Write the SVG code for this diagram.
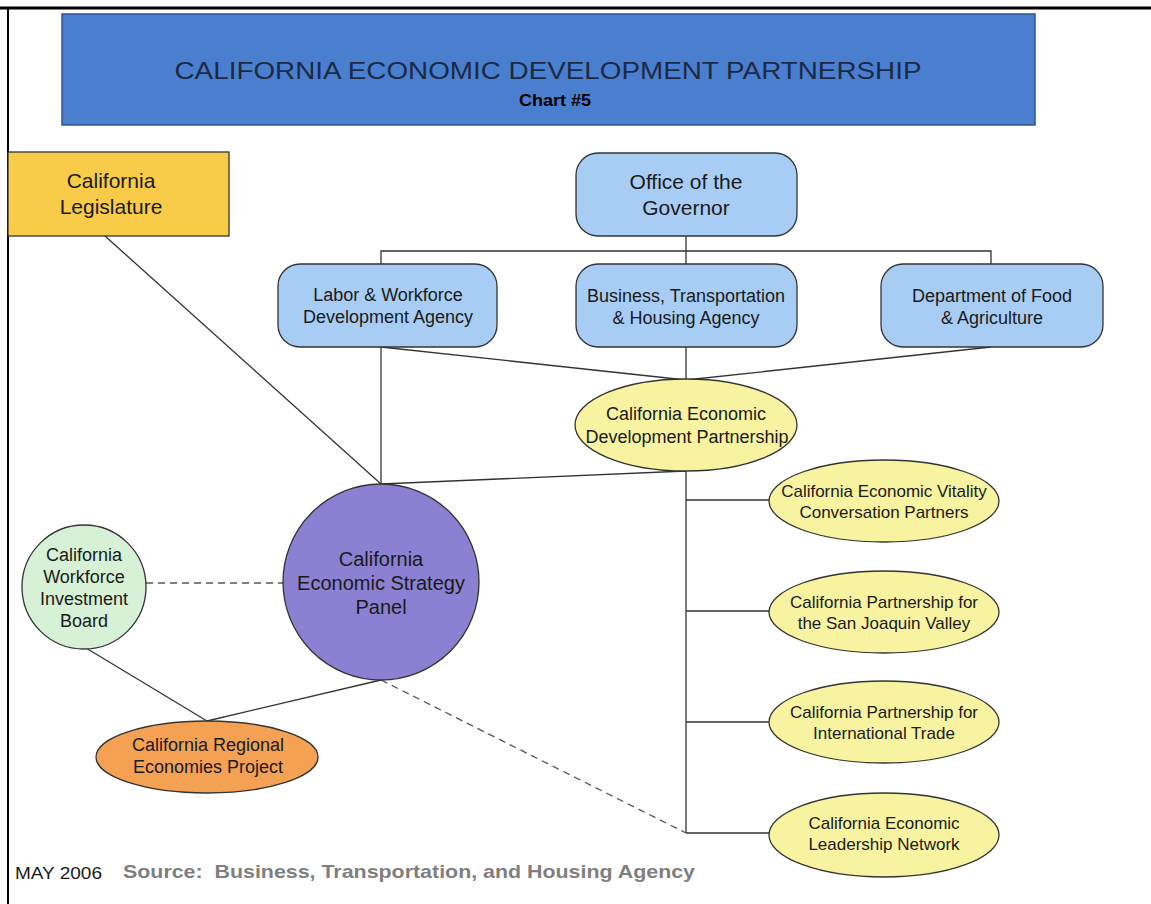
<svg xmlns="http://www.w3.org/2000/svg" width="1151" height="904" viewBox="0 0 1151 904">
<style>
text{font-family:"Liberation Sans",Arial,sans-serif;fill:#1a1a1a;text-anchor:middle}
text.l{text-anchor:start}
text.grey{fill:#7f7f7f;font-weight:bold}
text.tt{fill:#1c2a44}
text.b{font-weight:bold;fill:#000}
.n{stroke:#333;stroke-width:1.3}
.blue{fill:#a8cdf4}
.yel{fill:#f8f3a0}
.c{stroke:#333;stroke-width:1.3;fill:none}
.d{stroke:#555;stroke-width:1.3;fill:none;stroke-dasharray:7 5}
.t18{font-size:18px}
.t17{font-size:17px}
.t21{font-size:21px}
.t20{font-size:20px}
</style>
<rect x="0" y="0" width="1151" height="904" fill="#fff"/>
<line x1="0" y1="8" x2="1151" y2="8" stroke="#000" stroke-width="3"/>
<line x1="8" y1="8" x2="8" y2="904" stroke="#000" stroke-width="2"/>
<g id="title">
<rect x="62" y="14" width="973" height="111" fill="#4a7fd0" stroke="#2d5590" stroke-width="1.5"/>
<text class="tt" x="548" y="79" font-size="24" textLength="747" lengthAdjust="spacingAndGlyphs">CALIFORNIA ECONOMIC DEVELOPMENT PARTNERSHIP</text>
<text class="b" x="555" y="106" font-size="17" textLength="72" lengthAdjust="spacingAndGlyphs">Chart #5</text>
</g>
<g id="connectors">
<polyline class="c" points="381,264 381,251 991,251 991,264"/>
<line class="c" x1="686" y1="236" x2="686" y2="264"/>
<line class="c" x1="686" y1="347" x2="686" y2="380"/>
<line class="c" x1="381" y1="347" x2="686" y2="380"/>
<line class="c" x1="991" y1="347" x2="686" y2="380"/>
<line class="c" x1="381" y1="347" x2="381" y2="484"/>
<line class="c" x1="105" y1="236" x2="381" y2="484"/>
<line class="c" x1="686" y1="471" x2="381" y2="484"/>
<line class="c" x1="686" y1="471" x2="686" y2="833"/>
<line class="c" x1="686" y1="500" x2="770" y2="500"/>
<line class="c" x1="686" y1="611" x2="770" y2="611"/>
<line class="c" x1="686" y1="722" x2="770" y2="722"/>
<line class="c" x1="686" y1="833" x2="770" y2="833"/>
<line class="d" x1="146" y1="583" x2="283" y2="583"/>
<line class="c" x1="86" y1="648" x2="207" y2="721"/>
<line class="c" x1="381" y1="680" x2="207" y2="721"/>
<line class="d" x1="381" y1="680" x2="686" y2="833"/>
</g>
<g id="legislature">
<rect class="n" x="8" y="152" width="221" height="84" fill="#f8cb48"/>
<text class="t21" x="111" y="188">California</text>
<text class="t21" x="111" y="214">Legislature</text>
</g>
<g id="governor">
<rect class="n blue" x="576" y="153" width="221" height="83" rx="22"/>
<text class="t21" x="686" y="189">Office of the</text>
<text class="t21" x="686" y="215">Governor</text>
</g>
<g id="labor">
<rect class="n blue" x="278" y="264" width="219" height="83" rx="22"/>
<text class="t18" x="388" y="301">Labor &amp; Workforce</text>
<text class="t18" x="388" y="323">Development Agency</text>
</g>
<g id="business">
<rect class="n blue" x="576" y="264" width="221" height="83" rx="22"/>
<text class="t18" x="686" y="302">Business, Transportation</text>
<text class="t18" x="686" y="324">&amp; Housing Agency</text>
</g>
<g id="food">
<rect class="n blue" x="881" y="264" width="222" height="83" rx="22"/>
<text class="t18" x="992" y="302">Department of Food</text>
<text class="t18" x="992" y="324">&amp; Agriculture</text>
</g>
<g id="cedp">
<ellipse class="n yel" cx="686" cy="425" rx="111" ry="46"/>
<text class="t18" x="686" y="420">California Economic</text>
<text class="t18" x="687" y="443">Development Partnership</text>
</g>
<g id="vitality">
<ellipse class="n yel" cx="884" cy="501" rx="115" ry="41"/>
<text class="t17" x="884" y="497">California Economic Vitality</text>
<text class="t17" x="884" y="518">Conversation Partners</text>
</g>
<g id="sanjoaquin">
<ellipse class="n yel" cx="884" cy="612" rx="115" ry="41"/>
<text class="t17" x="884" y="608">California Partnership for</text>
<text class="t17" x="884" y="629">the San Joaquin Valley</text>
</g>
<g id="trade">
<ellipse class="n yel" cx="884" cy="722" rx="115" ry="41"/>
<text class="t17" x="884" y="718">California Partnership for</text>
<text class="t17" x="884" y="739">International Trade</text>
</g>
<g id="leadership">
<ellipse class="n yel" cx="884" cy="835" rx="115" ry="42"/>
<text class="t17" x="884" y="829">California Economic</text>
<text class="t17" x="884" y="850">Leadership Network</text>
</g>
<g id="strategy">
<circle class="n" cx="381" cy="582" r="98" fill="#8b80d2"/>
<text class="t20" x="381" y="566">California</text>
<text class="t20" x="381" y="590">Economic Strategy</text>
<text class="t20" x="381" y="614">Panel</text>
</g>
<g id="workforce">
<circle class="n" cx="84" cy="587" r="62" fill="#d6f1d6"/>
<text class="t18" x="84" y="561">California</text>
<text class="t18" x="84" y="583">Workforce</text>
<text class="t18" x="84" y="605">Investment</text>
<text class="t18" x="84" y="627">Board</text>
</g>
<g id="regional">
<ellipse class="n" cx="207" cy="757" rx="111" ry="36" fill="#f5a153"/>
<text class="t18" x="208" y="751">California Regional</text>
<text class="t18" x="208" y="773">Economies Project</text>
</g>
<g id="footer">
<text class="l" x="15" y="879" font-size="16" fill="#222" textLength="87" lengthAdjust="spacingAndGlyphs">MAY 2006</text>
<text class="l grey" x="123" y="878" font-size="19" textLength="572" lengthAdjust="spacingAndGlyphs">Source:&#160; Business, Transportation, and Housing Agency</text>
</g>
</svg>
